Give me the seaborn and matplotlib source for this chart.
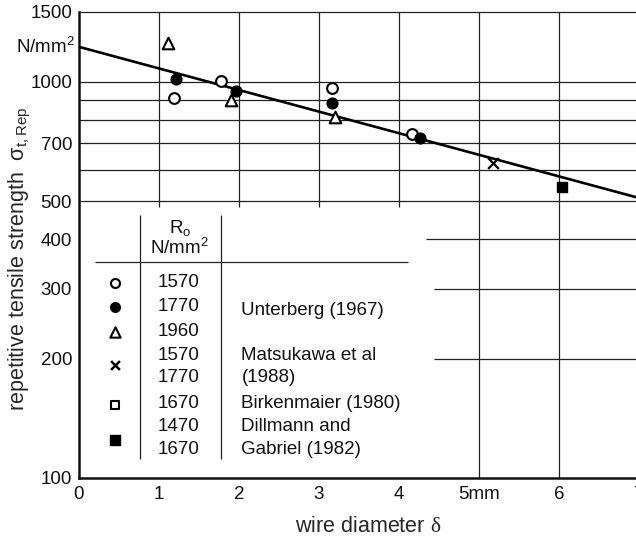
import matplotlib
matplotlib.use("Agg")
import matplotlib.pyplot as plt
import matplotlib.ticker as mticker
import seaborn as sns

# ---- data ----
open_circle_x = [1.19, 1.78, 3.16, 4.16]
open_circle_y = [912, 1006, 966, 739]
filled_circle_x = [1.21, 1.96, 3.16, 4.26]
filled_circle_y = [1018, 949, 885, 722]
triangle_x = [1.11, 1.90, 3.20]
triangle_y = [1254, 900, 816]
cross_x = [5.17]
cross_y = [624]
filled_square_x = [6.04]
filled_square_y = [543]

fit_x = [0, 7]
fit_y = [1225, 509]

x_ticks = [0, 1, 2, 3, 4, 5, 6, 7]
x_tick_labels = ["0", "1", "2", "3", "4", "5mm", "6", "7"]
y_ticks = [100, 200, 300, 400, 500, 700, 1000, 1500]
y_tick_labels = ["100", "200", "300", "400", "500", "700", "1000", "1500"]

table_strengths = ["1570", "1770", "1960", "1570", "1770", "1670", "1470", "1670"]
table_sources = ["Unterberg (1967)", "Matsukawa et al", "(1988)",
                 "Birkenmaier (1980)", "Dillmann and", "Gabriel (1982)"]

# ---- style ----
sns.set_style("white")
plt.rcParams["font.family"] = ["Liberation Sans", "DejaVu Sans"]
plt.rcParams["mathtext.fontset"] = "custom"
plt.rcParams["mathtext.rm"] = "Liberation Sans"
plt.rcParams["mathtext.it"] = "Liberation Sans:italic"
plt.rcParams["mathtext.sf"] = "Liberation Serif"
plt.rcParams["text.color"] = "#111111"

FS = 13.5

fig = plt.figure(figsize=(6.36, 5.42), dpi=100)
ax = fig.add_axes([79 / 636, 1 - 478 / 542, 560 / 636, 466 / 542])
ax.set_yscale("log")
ax.set_xlim(0, 7)
ax.set_ylim(100, 1500)

# grid-like lines of the original chart
grid_kw = dict(color="#222222", lw=0.9, zorder=1)
ax.hlines([500, 600, 700, 800, 900, 1000], 0, 7, **grid_kw)
ax.vlines([1, 2, 3, 4], 483, 1500, **grid_kw)
ax.vlines([5, 6], 100, 1500, **grid_kw)
ax.hlines([400], 4.34, 7, **grid_kw)
ax.hlines([300, 200], 4.44, 7, **grid_kw)

# fitted line
sns.lineplot(x=fit_x, y=fit_y, ax=ax, color="black", lw=1.9, zorder=3)

ms = 60
sns.scatterplot(x=open_circle_x, y=open_circle_y, ax=ax, marker="o", s=ms,
                color="white", edgecolor="black", linewidth=1.5, zorder=4)
sns.scatterplot(x=filled_circle_x, y=filled_circle_y, ax=ax, marker="o", s=ms,
                color="black", edgecolor="black", linewidth=1.0, zorder=4)
sns.scatterplot(x=triangle_x, y=triangle_y, ax=ax, marker="^", s=ms + 10,
                color="white", edgecolor="black", linewidth=1.5, zorder=4)
sns.scatterplot(x=cross_x, y=cross_y, ax=ax, marker="x", s=ms,
                color="black", linewidth=1.6, zorder=4)
sns.scatterplot(x=filled_square_x, y=filled_square_y, ax=ax, marker="s", s=ms,
                color="black", edgecolor="black", linewidth=1.0, zorder=4)

# ---- legend table ----
tab_kw = dict(color="#222222", lw=0.9, zorder=1)
ax.vlines([0.76, 1.775], 111.7, 460, **tab_kw)
ax.hlines([351], 0.2, 4.11, **tab_kw)
ax.text(1.26, 428, "R$_\\mathrm{o}$", ha="center", va="center", fontsize=FS)
ax.text(1.26, 380, "N/mm$^\\mathrm{2}$", ha="center", va="center", fontsize=FS)

sym_x = 0.45
ax.scatter([sym_x], [310.8], marker="o", s=42, facecolor="white", edgecolor="black", linewidth=1.5, zorder=4)
ax.scatter([sym_x], [270.3], marker="o", s=48, facecolor="black", edgecolor="black", zorder=4)
ax.scatter([sym_x], [233.7], marker="^", s=55, facecolor="white", edgecolor="black", linewidth=1.5, zorder=4)
ax.scatter([sym_x], [193], marker="x", s=40, color="black", linewidth=1.8, zorder=4)
ax.scatter([sym_x], [152.8], marker="s", s=38, facecolor="white", edgecolor="black", linewidth=1.5, zorder=4)
ax.scatter([sym_x], [124.7], marker="s", s=48, facecolor="black", edgecolor="black", zorder=4)

row_y = [310.8, 270.3, 233.7, 203.3, 178.9, 154.6, 134.5, 117.7]
for yv, txt in zip(row_y, table_strengths):
    ax.text(1.24, yv, txt, ha="center", va="center", fontsize=FS)
src_y = [264, 203.3, 178.9, 154.6, 134.5, 117.7]
for yv, txt in zip(src_y, table_sources):
    ax.text(2.03, yv, txt, ha="left", va="center", fontsize=FS)

# ---- axes ----
ax.yaxis.set_major_locator(mticker.FixedLocator(y_ticks))
ax.yaxis.set_major_formatter(mticker.FixedFormatter(y_tick_labels))
ax.yaxis.set_minor_locator(mticker.NullLocator())
ax.set_xticks(x_ticks)
ax.set_xticklabels(x_tick_labels)
ax.tick_params(axis="both", direction="in", length=7, width=1.0, labelsize=FS,
               color="#222222", labelcolor="#111111")
ax.tick_params(axis="y", pad=5)
ax.tick_params(axis="x", pad=6)

for side in ["left", "bottom"]:
    ax.spines[side].set_linewidth(1.8)
    ax.spines[side].set_color("#111111")
for side in ["top", "right"]:
    ax.spines[side].set_linewidth(0.9)
    ax.spines[side].set_color("#222222")

ax.text(-0.008, 1225, "N/mm$^\\mathrm{2}$", ha="right", va="center", fontsize=FS,
        transform=ax.get_yaxis_transform())

ax.set_xlabel("wire diameter $\\mathsf{\\delta}$", fontsize=15.5, va="center")
ax.xaxis.set_label_coords(0.516, -0.105)
ax.set_ylabel("repetitive tensile strength  σ$_\\mathrm{t, Rep}$", fontsize=15.5, va="center")
ax.yaxis.set_label_coords(-0.105, 0.47)

fig.savefig("out.png", dpi=100)
